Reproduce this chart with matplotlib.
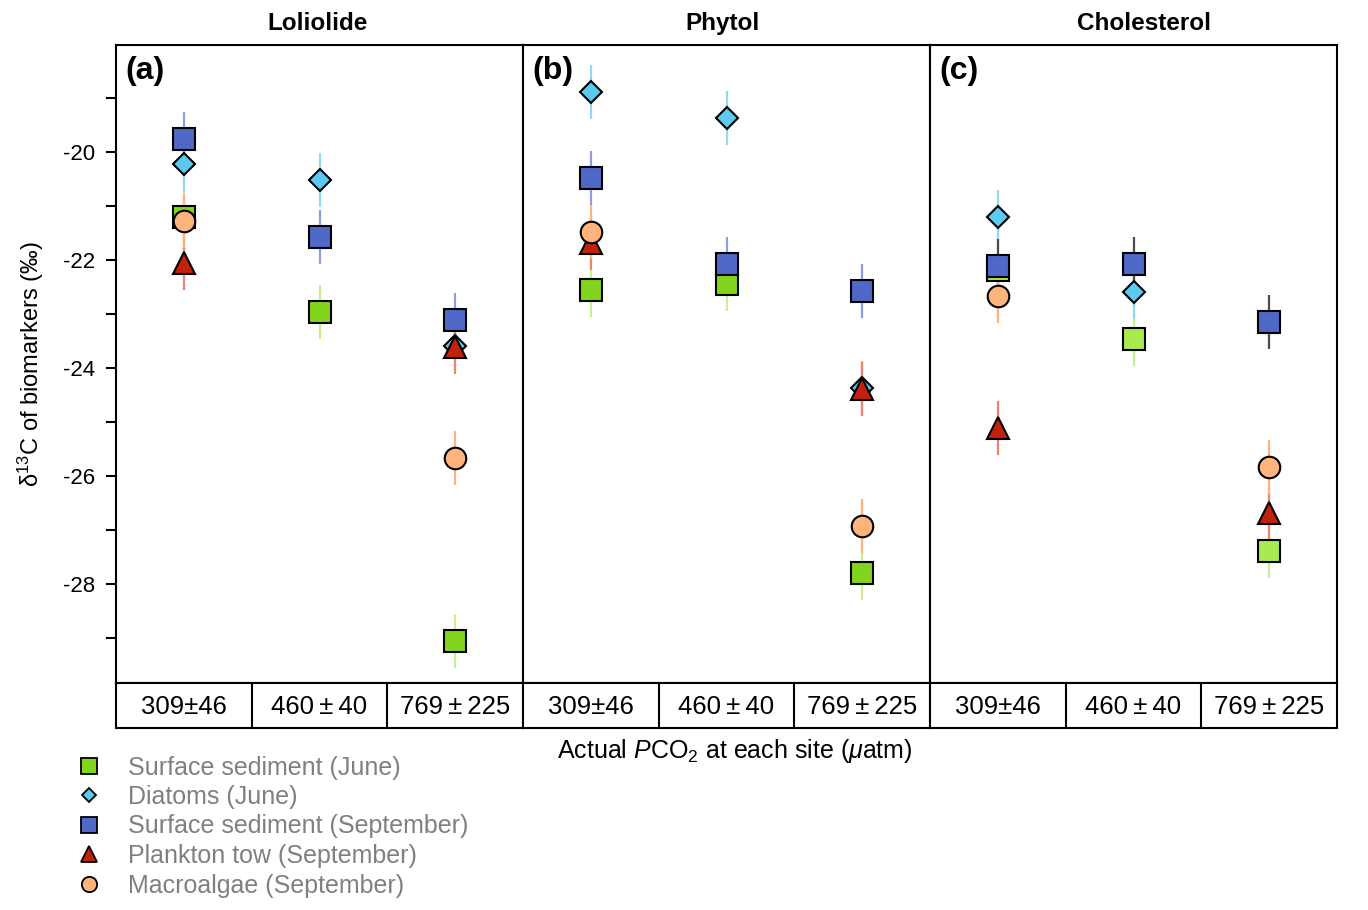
import numpy as np
import matplotlib
matplotlib.use('Agg')
import matplotlib.pyplot as plt
from matplotlib.lines import Line2D

plt.rcParams['font.family'] = ['Liberation Sans', 'DejaVu Sans']
plt.rcParams['mathtext.fontset'] = 'custom'
plt.rcParams['mathtext.rm'] = 'Liberation Sans'
plt.rcParams['mathtext.it'] = 'Liberation Sans:italic'
plt.rcParams['axes.unicode_minus'] = False

nan = np.nan
titles = ['Loliolide', 'Phytol', 'Cholesterol']
title_x = [0.495, 0.49, 0.527]
letters = ['(a)', '(b)', '(c)']
pco2 = ['309\u00b146', '460\u2009\u00b1\u200940', '769\u2009\u00b1\u2009225']
series = ['Surface sediment (June)', 'Diatoms (June)', 'Surface sediment (September)',
          'Plankton tow (September)', 'Macroalgae (September)']

# delta13C values per panel, one list per series (3 sites)
sed_june = [[-21.20, -22.96, -29.06], [-22.56, -22.44, -27.80], [-22.18, -23.47, -27.38]]
diatoms = [[-20.22, -20.51, -23.60], [-18.89, -19.37, -24.37], [-21.20, -22.59, nan]]
sed_sep = [[-19.76, -21.57, -23.11], [-20.49, -22.07, -22.58], [-22.11, -22.07, -23.15]]
plankton = [[-22.05, nan, -23.61], [-21.68, nan, -24.39], [-25.11, nan, -26.69]]
macro = [[-21.27, nan, -25.67], [-21.49, nan, -26.93], [-22.67, nan, -25.83]]
err = 0.5

markers = ['s', 'D', 's', '^', 'o']
msizes = [15.5, 10.8, 15.5, 15.5, 15.5]
fills = ['#82d41c', '#5bc9f0', '#4f68c8', '#c2220c', '#ffb47e']
ecols = ['#c9f08e', '#92daf4', '#8d9de0', '#f0836f', '#ffb47e']

W, H = 1368, 910
fig = plt.figure(figsize=(W / 100, H / 100), dpi=100)
x0, x1, ytop, ybot, ytab = 116, 1337, 45, 683, 728
pw = (x1 - x0) / 3
x = np.arange(3)

for p in range(3):
    ax = fig.add_axes([(x0 + p * pw) / W, 1 - ybot / H, pw / W, (ybot - ytop) / H])
    data = [sed_june[p], diatoms[p], sed_sep[p], plankton[p], macro[p]]
    for i, vals in enumerate(data):
        fc = fills[i]
        ec = ecols[i]
        if p == 2 and i == 0:
            fc = '#a8eb50'
        if p == 2 and i == 2:
            ec = '#4d4d4d'
        ax.errorbar(x, vals, yerr=err, fmt='none', ecolor=ec, elinewidth=1.6,
                    capsize=0, zorder=2)
        ax.plot(x, vals, linestyle='none', marker=markers[i], markersize=msizes[i],
                markerfacecolor=fc, markeredgecolor='black', markeredgewidth=1.5,
                zorder=3 + i)
    ax.set_xlim(-0.5, 2.5)
    ax.set_ylim(-29.83, -18.02)
    ax.set_xticks([])
    for s in ax.spines.values():
        s.set_linewidth(1.5)
    if p == 0:
        ax.set_yticks([-20, -22, -24, -26, -28])
        ax.set_yticks(np.arange(-29, -18, 2), minor=True)
        ax.tick_params(axis='y', which='both', direction='out', length=7, width=1.5,
                       labelsize=16, pad=8)
        ax.set_ylabel('\u03b4$^{13}$C of biomarkers (\u2030)', fontsize=17, labelpad=12)
    else:
        ax.set_yticks([])
    ax.set_title(titles[p], fontsize=17.5, fontweight='bold', pad=11, x=title_x[p])
    ax.text(0.022, 0.982, letters[p], transform=ax.transAxes, fontsize=23,
            fontweight='bold', va='top', ha='left')

    tab = fig.add_axes([(x0 + p * pw) / W, 1 - ytab / H, pw / W, (ytab - ybot) / H])
    tab.set_xlim(-0.5, 2.5)
    tab.set_ylim(0, 1)
    tab.set_xticks([])
    tab.set_yticks([])
    for s in tab.spines.values():
        s.set_linewidth(1.5)
    for k in range(1, 3):
        tab.axvline(k - 0.5, color='black', lw=1.5)
    for k in range(3):
        tab.text(k, 0.47, pco2[k], ha='center', va='center', fontsize=18.5)

fig.text(735 / W, 1 - 751 / H, 'Actual $P$CO$_2$ at each site ($\\mu$atm)',
         ha='center', va='center', fontsize=18)

handles = []
lsz = [11, 7.5, 11, 11, 11]
for i in range(5):
    handles.append(Line2D([], [], linestyle='none', marker=markers[i], markersize=lsz[i],
                          markerfacecolor=fills[i], markeredgecolor='black',
                          markeredgewidth=1.3))
fig.legend(handles, series, loc='upper left', bbox_to_anchor=(59 / W, 1 - 743 / H),
           frameon=False, fontsize=18, labelcolor='#808080', handletextpad=0.85,
           labelspacing=0.22, borderpad=0, handlelength=1.4)

fig.savefig('out.png', dpi=100)
